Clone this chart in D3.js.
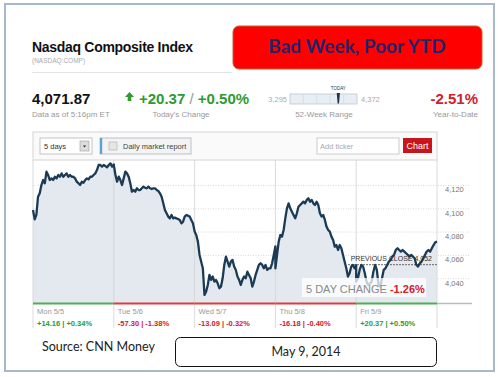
<!DOCTYPE html>
<html>
<head>
<meta charset="utf-8">
<script src="https://d3js.org/d3.v7.min.js"></script>
<style>
  body { margin: 0; background: #fff; }
  svg { display: block; font-family: "Liberation Sans", Arial, sans-serif; }
</style>
</head>
<body>
<svg id="vis"></svg>
<script>
// intraday values, one array per trading day
let mon = [4099.0, 4090.9, 4094.7, 4110.4, 4113.3, 4120.4, 4124.7, 4121.9, 4131.9, 4129.0, 4124.7, 4126.1, 4124.7,
  4127.5, 4126.1, 4129.0, 4127.5, 4130.4, 4127.5, 4129.0, 4130.4, 4127.5, 4129.0, 4127.5, 4127.5, 4126.1, 4123.3,
  4121.9, 4120.4, 4123.3, 4122.4, 4124.7, 4126.1, 4125.3, 4127.5, 4127.5, 4129.0, 4130.4, 4133.3, 4137.6, 4137.6,
  4136.2, 4137.6, 4136.7, 4135.6, 4137.6, 4139.0, 4136.2, 4138.1];
let tue = [4137.6, 4129.0, 4123.3, 4127.6, 4124.7, 4120.4, 4126.1, 4131.9, 4130.4, 4127.6, 4121.9, 4114.7, 4116.1,
  4114.7, 4117.6, 4116.1, 4116.1, 4117.6, 4119.0, 4118.1, 4117.6, 4119.0, 4117.6, 4117.0, 4117.6, 4117.6, 4116.1,
  4115.3, 4113.3, 4110.4, 4104.7, 4099.0, 4096.1, 4093.3, 4091.8, 4094.7, 4091.8, 4092.4, 4091.8, 4091.2, 4090.4,
  4087.5, 4088.9, 4093.3, 4094.7, 4094.1, 4093.3, 4090.4, 4087.5, 4080.8];
let wed = [4080.4, 4077.5, 4071.8, 4060.4, 4054.6, 4048.9, 4026.0, 4028.9, 4034.6, 4043.2, 4038.9, 4041.8, 4037.5,
  4038.9, 4036.0, 4031.8, 4033.2, 4040.3, 4051.8, 4058.9, 4054.6, 4050.4, 4054.6, 4056.1, 4050.4, 4047.5, 4041.8,
  4038.9, 4034.6, 4038.9, 4041.8, 4040.3, 4046.0, 4043.2, 4040.3, 4033.2, 4037.5, 4043.2, 4047.5, 4051.8, 4053.2,
  4051.8, 4048.9, 4051.8, 4047.5, 4048.9, 4048.9, 4053.2, 4060.4, 4067.7];
let thu = [4048.9, 4060.4, 4071.8, 4077.5, 4076.1, 4081.8, 4091.8, 4100.4, 4104.7, 4100.4, 4097.5, 4094.7, 4091.8,
  4096.1, 4101.8, 4103.3, 4104.7, 4106.1, 4104.7, 4107.6, 4109.0, 4106.1, 4107.6, 4104.7, 4103.3, 4106.1, 4103.3,
  4096.1, 4093.3, 4094.7, 4090.4, 4084.7, 4081.8, 4080.4, 4076.1, 4073.2, 4067.5, 4068.9, 4064.6, 4068.9, 4066.1,
  4060.4, 4054.6, 4048.9, 4041.8, 4044.6, 4050.4, 4051.8, 4048.9, 4051.5];
let fri = [4037.5, 4040.3, 4047.5, 4051.8, 4050.4, 4044.6, 4037.5, 4034.6, 4036.0, 4037.5, 4046.0, 4051.8, 4047.5,
  4034.6, 4033.2, 4040.3, 4047.5, 4048.9, 4051.8, 4054.6, 4056.1, 4058.9, 4060.4, 4064.6, 4066.1, 4064.6, 4063.2,
  4064.6, 4063.2, 4061.8, 4060.4, 4058.9, 4060.4, 4058.9, 4057.5, 4051.8, 4050.4, 4053.2, 4054.6, 4057.5, 4060.4,
  4063.2, 4064.6, 4063.2, 4066.1, 4068.9, 4071.2, 4071.9];

let days = ["Mon 5/5", "Tue 5/6", "Wed 5/7", "Thu 5/8", "Fri 5/9"];
let dayChange = ["+14.16 | +0.34%", "-57.30 | -1.38%", "-13.09 | -0.32%", "-16.18 | -0.40%", "+20.37 | +0.50%"];
let dayUp = [true, false, false, false, true];
let yTicks = [4040, 4060, 4080, 4100, 4120];
let prevClose = 4052;
let range52 = [3295, 4372];
let last = 4071.87;

let width = 498, height = 377;
let svg = d3.select("#vis").attr("width", width).attr("height", height);

let green = "#2f9a2f", red = "#d0202a", grayTxt = "#999";

// page frame
svg.append("rect").attr("x", 5).attr("y", 4).attr("width", 489).attr("height", 367)
  .attr("fill", "#fff").attr("stroke", "#a9b8c8").attr("stroke-width", 2);

// header
svg.append("text").attr("x", 32).attr("y", 52).attr("font-size", 14).attr("font-weight", "bold")
  .attr("fill", "#111").attr("letter-spacing", -0.3).text("Nasdaq Composite Index");
svg.append("text").attr("x", 32).attr("y", 63).attr("font-size", 6.5).attr("fill", "#aaa").text("(NASDAQ:COMP)");
svg.append("line").attr("x1", 32).attr("x2", 232).attr("y1", 72.5).attr("y2", 72.5).attr("stroke", "#e4e4e4");

svg.append("rect").attr("x", 233).attr("y", 26).attr("width", 249).attr("height", 43).attr("rx", 6)
  .attr("fill", "#ff0000").attr("stroke", "#c0642c").attr("stroke-width", 1);
svg.append("text").attr("x", 357).attr("y", 53).attr("text-anchor", "middle").attr("font-family", "Lato")
  .attr("font-size", 19).attr("font-weight", "bold").attr("fill", "#23236a").text("Bad Week, Poor YTD");

svg.append("text").attr("x", 32).attr("y", 104).attr("font-size", 15).attr("font-weight", "bold")
  .attr("fill", "#111").text("4,071.87");
svg.append("text").attr("x", 32).attr("y", 117).attr("font-size", 8).attr("fill", grayTxt).text("Data as of 5:16pm ET");

svg.append("path").attr("d", "M129.5,92 L134,97 L131.3,97 L131.3,101 L127.7,101 L127.7,97 L125,97 Z").attr("fill", green);
let chg = svg.append("text").attr("x", 139).attr("y", 104).attr("font-size", 15).attr("font-weight", "bold").attr("fill", green);
chg.append("tspan").text("+20.37");
chg.append("tspan").attr("fill", "#999").attr("font-weight", "normal").text(" / ");
chg.append("tspan").text("+0.50%");
svg.append("text").attr("x", 181).attr("y", 117).attr("text-anchor", "middle").attr("font-size", 8).attr("fill", grayTxt).text("Today's Change");

// 52-week range
let r = d3.scaleLinear().domain(range52).range([290, 357]);
svg.append("text").attr("x", 287).attr("y", 101.5).attr("text-anchor", "end").attr("font-size", 7.5).attr("fill", "#aaa").text(d3.format(",")(range52[0]));
svg.append("text").attr("x", 361).attr("y", 101.5).attr("font-size", 7.5).attr("fill", "#aaa").text(d3.format(",")(range52[1]));
svg.append("rect").attr("x", 290).attr("y", 94).attr("width", 67).attr("height", 10)
  .attr("fill", "#e9eef4").attr("stroke", "#bcc7d3").attr("stroke-width", 0.8);
[1, 2, 3, 4].forEach(i => svg.append("line").attr("x1", 290 + i * 13.4).attr("x2", 290 + i * 13.4)
  .attr("y1", 95).attr("y2", 103).attr("stroke", "#cfd8e2").attr("stroke-width", 0.7));
let mx = r(last);
svg.append("path").attr("d", `M${mx - 1.6},93 L${mx + 1.6},93 L${mx + 0.7},103.5 L${mx - 0.7},103.5 Z`).attr("fill", "#1d3550");
svg.append("text").attr("x", mx).attr("y", 89.5).attr("text-anchor", "middle").attr("font-size", 4.5)
  .attr("fill", "#1d3550").text("TODAY");
svg.append("text").attr("x", 324).attr("y", 117).attr("text-anchor", "middle").attr("font-size", 8).attr("fill", grayTxt).text("52-Week Range");

svg.append("text").attr("x", 478).attr("y", 104).attr("text-anchor", "end").attr("font-size", 15)
  .attr("font-weight", "bold").attr("fill", red).text("-2.51%");
svg.append("text").attr("x", 478).attr("y", 117).attr("text-anchor", "end").attr("font-size", 8).attr("fill", grayTxt).text("Year-to-Date");

// chart frame + toolbar
let pLeft = 33, pRight = 437, pTop = 160, pBottom = 303;
svg.append("rect").attr("x", pLeft).attr("y", 132).attr("width", pRight - pLeft).attr("height", 28)
  .attr("fill", "#fafafa").attr("stroke", "#d4d4d4");
svg.append("rect").attr("x", 40).attr("y", 138).attr("width", 52).attr("height", 16).attr("fill", "#fff").attr("stroke", "#c4c4c4");
svg.append("text").attr("x", 44).attr("y", 149).attr("font-size", 7.5).attr("fill", "#333").text("5 days");
svg.append("rect").attr("x", 80).attr("y", 141).attr("width", 9).attr("height", 10).attr("fill", "#ddd").attr("stroke", "#999").attr("stroke-width", 0.6);
svg.append("path").attr("d", "M82.8,145.5 L86.2,145.5 L84.5,147.5 Z").attr("fill", "#333");
svg.append("rect").attr("x", 100).attr("y", 138).attr("width", 91).attr("height", 16).attr("fill", "#f3f3f3").attr("stroke", "#b9c0c8");
svg.append("rect").attr("x", 100).attr("y", 138).attr("width", 2.2).attr("height", 16).attr("fill", "#5ba3d4");
svg.append("rect").attr("x", 109).attr("y", 142).attr("width", 8).attr("height", 8).attr("fill", "#e6e6e6").attr("stroke", "#aaa").attr("stroke-width", 0.6);
svg.append("text").attr("x", 123).attr("y", 148.5).attr("font-size", 7.5).attr("fill", "#444").text("Daily market report");
svg.append("rect").attr("x", 317).attr("y", 138).attr("width", 82).attr("height", 16).attr("fill", "#fff").attr("stroke", "#ccc");
svg.append("text").attr("x", 320).attr("y", 149).attr("font-size", 7.5).attr("fill", "#aaa").text("Add ticker");
svg.append("rect").attr("x", 403).attr("y", 138).attr("width", 29).attr("height", 15).attr("fill", "#c8141e");
svg.append("text").attr("x", 417.5).attr("y", 149).attr("text-anchor", "middle").attr("font-size", 9).attr("fill", "#fff").text("Chart");

// scales
let x = d3.scaleLinear().domain([0, 5]).range([pLeft, pRight]);
let y = d3.scaleLinear().domain([4019.1, 4141.9]).range([pBottom, pTop]);

let series = [];
[mon, tue, wed, thu, fri].forEach((arr, d) => {
  arr.forEach((v, i) => series.push({ t: d + i / (arr.length - 1), v: v }));
});

// gridlines
svg.append("g").selectAll("line").data(yTicks).join("line")
  .attr("x1", pLeft).attr("x2", 470).attr("y1", d => y(d)).attr("y2", d => y(d))
  .attr("stroke", "#c8c8c8").attr("stroke-width", 0.7).attr("stroke-dasharray", "1,1.5");

svg.append("path").datum(series)
  .attr("d", d3.area().x(d => x(d.t)).y0(pBottom).y1(d => y(d.v)))
  .attr("fill", "#e4e9f0");

svg.append("g").selectAll("line").data(d3.range(0, 6)).join("line")
  .attr("x1", d => x(d)).attr("x2", d => x(d)).attr("y1", pTop).attr("y2", 328)
  .attr("stroke", "#d2d2d2").attr("stroke-width", 0.8);

// previous close
svg.append("line").attr("x1", 348).attr("x2", pRight).attr("y1", y(prevClose)).attr("y2", y(prevClose))
  .attr("stroke", "#444").attr("stroke-width", 0.8).attr("stroke-dasharray", "2,1");
svg.append("text").attr("x", 432).attr("y", y(prevClose) - 3.5).attr("text-anchor", "end")
  .attr("font-size", 7).attr("fill", "#333").text("PREVIOUS CLOSE " + d3.format(",")(prevClose));

svg.append("path").datum(series)
  .attr("d", d3.line().x(d => x(d.t)).y(d => y(d.v)))
  .attr("fill", "none").attr("stroke", "#1b3a54").attr("stroke-width", 2.3).attr("stroke-linejoin", "round");

// 5 day change badge
svg.append("rect").attr("x", 302).attr("y", 278).attr("width", 124).attr("height", 19).attr("fill", "#fff").attr("opacity", 0.75);
let badge = svg.append("text").attr("x", 306).attr("y", 293).attr("font-size", 11);
badge.append("tspan").attr("fill", "#8a8a8a").text("5 DAY CHANGE ");
badge.append("tspan").attr("fill", red).attr("font-weight", "bold").text("-1.26%");

// y axis labels
let yAxis = d3.axisRight(y).tickValues(yTicks).tickSize(0).tickPadding(0).tickFormat(d3.format(","));
let ag = svg.append("g").attr("transform", `translate(445,0)`).call(yAxis);
ag.select(".domain").remove();
ag.selectAll("text").attr("dy", "0.85em").attr("font-size", 7.5).attr("fill", "#777")
  .attr("font-family", "Liberation Sans, Arial, sans-serif");

// bottom day strip
svg.append("line").attr("x1", pRight).attr("x2", 472).attr("y1", pBottom + 0.5).attr("y2", pBottom + 0.5).attr("stroke", "#bbb").attr("stroke-width", 1.5);
svg.append("g").selectAll("line").data(days).join("line")
  .attr("x1", (d, i) => x(i)).attr("x2", (d, i) => x(i + 1))
  .attr("y1", pBottom + 0.5).attr("y2", pBottom + 0.5)
  .attr("stroke", (d, i) => dayUp[i] ? "#4caf50" : "#e03c3c").attr("stroke-width", 1.8);
svg.append("g").selectAll("text").data(days).join("text")
  .attr("x", (d, i) => x(i) + 4).attr("y", 314).attr("font-size", 7.5).attr("fill", "#999").text(d => d);
svg.append("g").selectAll("text").data(dayChange).join("text")
  .attr("x", (d, i) => x(i) + 4).attr("y", 326).attr("font-size", 7.5).attr("font-weight", "bold")
  .attr("fill", (d, i) => dayUp[i] ? green : red).text(d => d);

// footer
svg.append("text").attr("x", 42).attr("y", 351).attr("font-family", "Lato").attr("font-size", 12.5)
  .attr("fill", "#222").text("Source: CNN Money");
svg.append("rect").attr("x", 175.5).attr("y", 337.5).attr("width", 261).attr("height", 29).attr("rx", 5)
  .attr("fill", "#fff").attr("stroke", "#111").attr("stroke-width", 1);
svg.append("text").attr("x", 306).attr("y", 355.5).attr("text-anchor", "middle").attr("font-family", "Lato")
  .attr("font-size", 12.5).attr("fill", "#222").text("May 9, 2014");
</script>
</body>
</html>
